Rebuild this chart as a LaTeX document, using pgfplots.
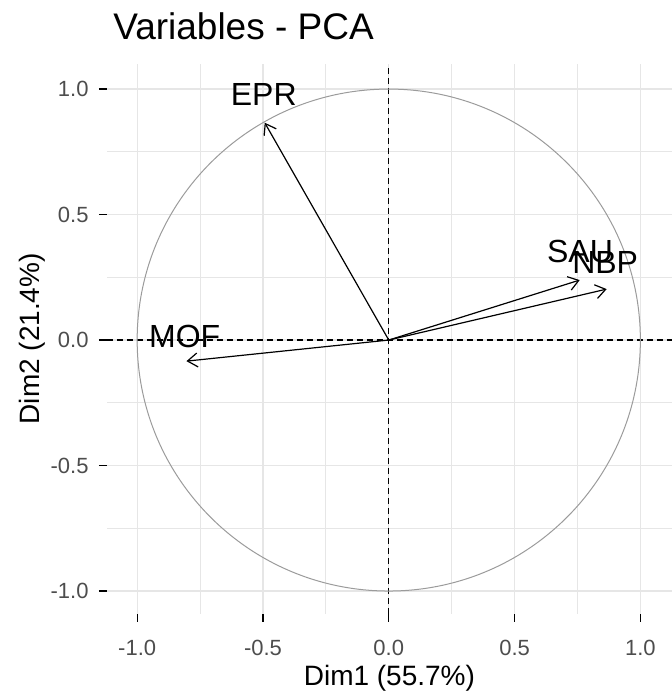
\documentclass[border=0pt]{standalone}
\usepackage{fontspec}
\setmainfont{Liberation Sans}
\usepackage{pgfplots}
\pgfplotsset{compat=1.18}
\usetikzlibrary{arrows.meta}
\definecolor{gridc}{RGB}{230,230,230}
\definecolor{circc}{RGB}{155,155,155}
\definecolor{tickc}{RGB}{77,77,77}

\begin{document}
\begin{tikzpicture}
\useasboundingbox (-53.5pt,-40.2pt) rectangle (282.5pt,306.9pt);
\begin{axis}[
    at={(0,0)}, anchor=south west,
    scale only axis,
    width=282.5pt, height=274.9pt,
    xmin=-1.12, xmax=1.125,
    ymin=-1.09, ymax=1.10,
    xtick={-1,-0.5,0,0.5,1},
    ytick={-1,-0.5,0,0.5,1},
    xticklabels={-1.0,-0.5,0.0,0.5,1.0},
    yticklabels={-1.0,-0.5,0.0,0.5,1.0},
    minor tick num=1,
    grid=both,
    major grid style={gridc, line width=0.6pt},
    minor grid style={gridc, line width=0.45pt},
    axis line style={draw=none},
    tick pos=left,
    tick align=outside,
    major tick length=4pt,
    minor tick length=0pt,
    tick style={black, line width=0.6pt},
    ticklabel style={font=\fontsize{11}{13}\selectfont, text=tickc, inner sep=0pt},
    xticklabel style={anchor=base, yshift=-17pt},
    yticklabel style={anchor=east, xshift=-5pt},
    xlabel={Dim1 (55.7\%)},
    ylabel={Dim2 (21.4\%)},
    xlabel style={at={(axis description cs:0.5,0)}, anchor=base, yshift=-36pt,
      font=\fontsize{14}{16}\selectfont, inner sep=0pt},
    ylabel style={at={(axis description cs:-0.1319,0.5)}, anchor=center,
      font=\fontsize{14}{16}\selectfont, inner sep=0pt},
  ]
  % reference lines
  \addplot[black, line width=0.7pt, dash pattern=on 3pt off 2pt] coordinates {(-1.12,0) (1.125,0)};
  \addplot[black, line width=0.7pt, dash pattern=on 3pt off 2pt] coordinates {(0,-1.09) (0,1.10)};
  % correlation circle
  \draw[circc, line width=0.5pt] (axis cs:0,0) circle [radius=1];

  % variable arrows
  \addplot[black, line width=0.6pt, -{Straight Barb[length=5pt,width=7pt]}] coordinates {(0,0) (-0.493,0.866)};
  \addplot[black, line width=0.6pt, -{Straight Barb[length=5pt,width=7pt]}] coordinates {(0,0) (-0.804,-0.084)};
  \addplot[black, line width=0.6pt, -{Straight Barb[length=5pt,width=7pt]}] coordinates {(0,0) (0.759,0.239)};
  \addplot[black, line width=0.6pt, -{Straight Barb[length=5pt,width=7pt]}] coordinates {(0,0) (0.866,0.203)};

  % labels
  \node[anchor=base, inner sep=0pt, font=\fontsize{16}{18}\selectfont] at (axis cs:-0.497,0.936) {EPR};
  \node[anchor=base, inner sep=0pt, font=\fontsize{16}{18}\selectfont] at (axis cs:-0.811,-0.028) {MOF};
  \node[anchor=base, inner sep=0pt, font=\fontsize{16}{18}\selectfont] at (axis cs:0.76,0.31) {SAU};
  \node[anchor=base, inner sep=0pt, font=\fontsize{16}{18}\selectfont] at (axis cs:0.86,0.266) {NBP};
\end{axis}
\node[anchor=base west, inner sep=0pt, font=\fontsize{18.5}{22}\selectfont] at (3pt,286.9pt) {Variables - PCA};
\end{tikzpicture}
\end{document}
